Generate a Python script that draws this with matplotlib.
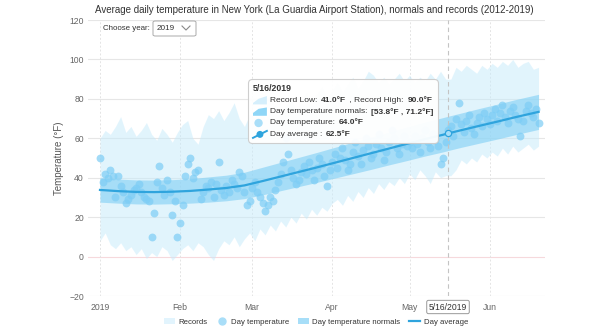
import matplotlib
matplotlib.use('Agg')
import matplotlib.pyplot as plt
import numpy as np
from matplotlib.patches import Patch, FancyBboxPatch, Polygon, Circle
from matplotlib.lines import Line2D
from matplotlib.offsetbox import TextArea, HPacker, VPacker, AnnotationBbox, DrawingArea

plt.rcParams['font.family'] = ['Liberation Sans', 'DejaVu Sans']

W, H = 604, 332

# month ticks (day index from Jan 1st)
month_starts = [0, 31, 59, 90, 120, 151]
month_labels = ['2019', 'Feb', 'Mar', 'Apr', 'May', 'Jun']

# records 2012-2019, every second day
record_days = list(range(0, 171, 2))
record_high = [60, 64, 62, 66, 71, 63, 66, 61, 64, 68, 62, 59, 65, 62, 58, 63,
               67, 69, 60, 57, 66, 72, 70, 74, 69, 73, 78, 70, 66, 72,
               70, 75, 69, 73, 77, 72, 76, 80, 74, 79, 83, 77, 82, 86, 80,
               84, 88, 83, 87, 91, 85, 89, 94, 92, 88, 91, 87, 90, 93, 89,
               92, 88, 91, 89, 93, 90, 94, 90, 90, 96, 94, 97, 95, 93, 97,
               95, 98, 96, 99, 97, 100, 96, 98, 99, 95, 96]
record_low = [8, 12, 6, 4, 7, 3, 5, 1, 4, -1, 2, 0, 5, 3, -2, 1,
              4, 6, 3, 7, 5, 1, -2, 4, 8, 6, 10, 5, 9, 12,
              8, 14, 11, 16, 13, 18, 15, 20, 17, 22, 19, 24, 21, 25, 23,
              27, 29, 26, 31, 28, 33, 30, 35, 32, 37, 34, 38, 36, 40, 37,
              42, 39, 44, 41, 37, 43, 40, 41, 41, 44, 49, 47, 50, 48, 52,
              50, 53, 51, 55, 52, 56, 53, 55, 57, 54, 56]

# normals (weekly)
normal_days = [0, 7, 14, 21, 28, 35, 42, 49, 56, 63, 70, 77, 84, 91, 98,
               105, 112, 119, 126, 133, 135, 140, 147, 154, 161, 168, 170]
normal_low = [27.6, 27.1, 26.7, 26.6, 26.8, 27.1, 27.6, 28.3, 29.4, 31.3, 33.4,
              35.5, 37.6, 39.8, 42.0, 44.2, 46.5, 48.7, 51.0, 53.1, 53.8, 55.4,
              57.5, 59.6, 61.8, 63.9, 64.5]
normal_high = [40.0, 39.3, 38.9, 38.8, 39.0, 39.5, 40.4, 41.3, 42.8, 45.3, 47.8,
               50.3, 52.8, 55.4, 58.0, 60.6, 63.1, 65.7, 68.2, 70.5, 71.2, 72.8,
               75.1, 77.3, 79.6, 81.7, 82.3]

# daily temperature 2019, Jan 1st -> Jun 20th
day_temp = [50, 38, 42, 40, 44, 41, 30, 41, 36, 33, 27, 29, 31, 34, 35, 37,
            33, 30, 29, 28, 10, 22, 38, 46, 35, 31, 39, 33, 21, 28, 10,
            17, 26, 41, 47, 50, 40, 43, 44, 29, 33, 36, 35, 38, 30, 37, 48,
            34, 31, 36, 33, 39, 37, 35, 43, 41, 33, 26, 28,
            35, 38, 33, 30, 27, 23, 26, 30, 28, 34, 38, 42, 48, 60, 52, 44,
            40, 37, 39, 43, 46, 42, 48, 44, 39, 45, 50, 47, 41, 36, 44,
            48, 52, 45, 50, 55, 49, 44, 47, 53, 58, 51, 47, 54, 60, 56, 50,
            52, 57, 62, 55, 49, 53, 58, 64, 60, 55, 52, 57, 61, 56,
            58, 55, 61, 57, 53, 60, 64, 58, 55, 62, 59, 56, 47, 50, 58, 64,
            66, 61, 70, 78, 67, 63, 69, 72, 65, 62, 68, 71, 66, 73, 70,
            67, 72, 75, 69, 73, 77, 71, 68, 74, 76, 72, 70, 61, 69, 74, 77,
            73, 71, 75, 68]

sel_day = 135
sel_label = '5/16/2019'

c_records = '#c5eafb'
c_normals = '#7fcff5'
c_points = '#7dcdf5'
c_line = '#2fa4dd'
c_text = '#666666'


def px(x, y):
    # pixel position (from top-left) -> figure fraction
    return x / W, 1 - y / H


fig = plt.figure(figsize=(W / 100, H / 100), dpi=100)
ax = fig.add_axes([88 / W, 36 / H, 457 / W, 276 / H])

days = np.arange(len(day_temp))
avg = (np.array(normal_low) + np.array(normal_high)) / 2

ax.fill_between(record_days, record_low, record_high, color=c_records, alpha=0.5, lw=0, zorder=2)
ax.fill_between(normal_days, normal_low, normal_high, color=c_normals, alpha=0.6, lw=0, zorder=3)
ax.scatter(days, day_temp, s=32, color=c_points, alpha=0.7, lw=0, zorder=4)
ax.plot(normal_days, avg, color=c_line, lw=1.6, zorder=5)

# hovered day
ax.axvline(sel_day, color='#c4c4c4', lw=0.8, ls=(0, (4, 3)), zorder=6)
sel_avg = np.interp(sel_day, normal_days, avg)
ax.plot([sel_day], [sel_avg], marker='o', ms=4.5, mfc='#a7def8', mec=c_line, mew=0.9, zorder=7)

# grid
for v in range(-20, 121, 20):
    ax.axhline(v, color='#f6d9dc' if v == 0 else '#e6e6e6', lw=0.8, zorder=1)
for m in month_starts:
    ax.axvline(m, color='#e4e4e4', lw=0.7, ls=(0, (2, 2)), zorder=1)

ax.set_xlim(-4.65, 172.5)
ax.set_ylim(-20, 120)
ax.set_yticks(range(-20, 121, 20))
ax.set_xticks(month_starts)
ax.set_xticklabels(month_labels)
ax.tick_params(axis='both', length=0, labelsize=6.2, labelcolor=c_text)
ax.tick_params(axis='y', pad=3)
ax.tick_params(axis='x', pad=5)
for s in ax.spines.values():
    s.set_visible(False)
ax.set_ylabel('Temperature (°F)', fontsize=7, color='#555555')
ax.yaxis.set_label_coords(-0.053, 0.5)

fig.text(*px(314, 10), 'Average daily temperature in New York (La Guardia Airport Station), normals and records (2012-2019)',
         ha='center', va='center', fontsize=7.0, color='#333333')

# year selector
fig.text(*px(103, 28), 'Choose year:', ha='left', va='center', fontsize=5.7, color='#333333')
sel_box = FancyBboxPatch(px(153, 36), 43 / W, 15 / H, boxstyle='round,pad=0,rounding_size=0.004',
                         transform=fig.transFigure, fc='white', ec='#aaaaaa', lw=0.7)
fig.patches.append(sel_box)
fig.text(*px(157, 28.5), '2019', ha='left', va='center', fontsize=5.9, color='#333333')
fig.add_artist(Line2D([182 / W, 186 / W, 190 / W], [1 - 26 / H, 1 - 30 / H, 1 - 26 / H],
                      transform=fig.transFigure, color='#888888', lw=0.8))

# tooltip
tp = dict(fontsize=6.0, color='#333333')
tb = dict(fontsize=6.0, color='#333333', fontweight='bold')


def icon(kind):
    da = DrawingArea(11, 6, 0, 0)
    if kind == 'records':
        da.add_artist(Polygon([[0, 0], [10, 0], [10, 6], [4, 4], [0, 1]], closed=True, fc='#d6effc', lw=0))
    elif kind == 'normals':
        da.add_artist(Polygon([[0, 0], [10, 0], [10, 6], [4, 5], [0, 2]], closed=True, fc='#8fd6f7', lw=0))
    elif kind == 'dot':
        da.add_artist(Circle((4, 3), 3, fc='#a9def8', lw=0))
    else:
        da.add_artist(Line2D([0, 10], [0.5, 5.5], color=c_line, lw=1.4))
        da.add_artist(Circle((5, 3), 2.5, fc=c_line, lw=0))
    return da


def row(parts, kind):
    kids = [icon(kind)]
    for txt, bold in parts:
        kids.append(TextArea(txt, textprops=tb if bold else tp))
    return HPacker(children=kids, align='center', pad=0, sep=1)


rows = [
    TextArea(sel_label, textprops=dict(fontsize=6.3, color='#333333', fontweight='bold')),
    row([('Record Low: ', False), ('41.0°F', True), (' , Record High: ', False), ('90.0°F', True)], 'records'),
    row([('Day temperature normals: ', False), ('[53.8°F , 71.2°F]', True)], 'normals'),
    row([('Day temperature: ', False), ('64.0°F', True)], 'dot'),
    row([('Day average : ', False), ('62.5°F', True)], 'line'),
]
tip = VPacker(children=rows, align='left', pad=0, sep=2.2)
ab = AnnotationBbox(tip, (253, H - 84), xycoords='figure pixels', box_alignment=(0, 1), pad=0.35,
                    frameon=True, bboxprops=dict(boxstyle='round,pad=0.35,rounding_size=0.3',
                                                 fc='white', ec='#cccccc', lw=0.8, alpha=0.95),
                    zorder=10)
fig.add_artist(ab)

# crosshair label on x axis
fig.text(*px(448, 307), sel_label, ha='center', va='center', fontsize=6.2, color='#333333',
         bbox=dict(boxstyle='round,pad=0.25,rounding_size=0.2', fc='white', ec='#999999', lw=0.7))

# legend
handles = [
    Patch(facecolor='#e2f4fd', edgecolor='none'),
    Line2D([], [], marker='o', ls='', color='#a9def8', ms=5),
    Patch(facecolor='#a7def8', edgecolor='none'),
    Line2D([], [], color=c_line, lw=1.6),
]
labels = ['Records', 'Day temperature', 'Day temperature normals', 'Day average']
fig.legend(handles, labels, loc='center', bbox_to_anchor=px(316, 322), ncol=4, frameon=False,
           fontsize=5.6, handlelength=1.4, handleheight=0.7, handletextpad=0.5, columnspacing=1.1,
           labelcolor='#333333')

fig.savefig('out.png', dpi=100)
